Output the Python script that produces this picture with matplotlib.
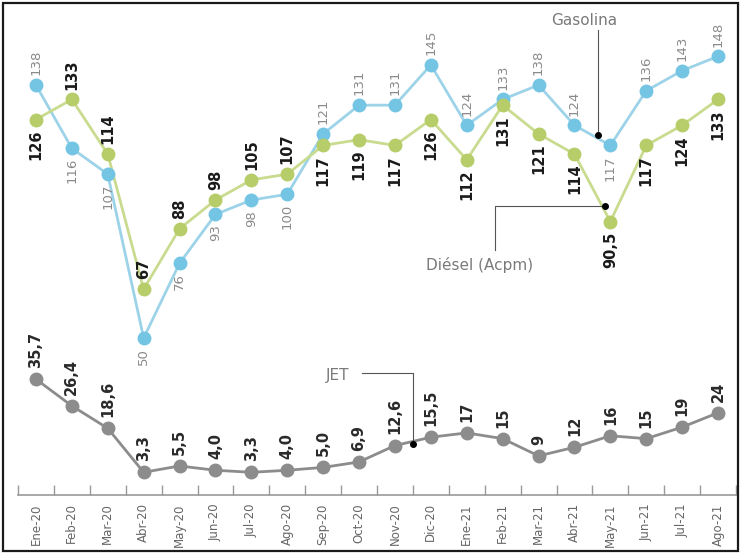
import numpy as np
import matplotlib
matplotlib.use("Agg")
import matplotlib.pyplot as plt
from matplotlib.patches import Rectangle

# data
meses = ["Ene-20", "Feb-20", "Mar-20", "Abr-20", "May-20", "Jun-20", "Jul-20",
         "Ago-20", "Sep-20", "Oct-20", "Nov-20", "Dic-20", "Ene-21", "Feb-21",
         "Mar-21", "Abr-21", "May-21", "Jun-21", "Jul-21", "Ago-21"]
gasolina = [138, 116, 107, 50, 76, 93, 98, 100, 121, 131, 131, 145, 124, 133,
            138, 124, 117, 136, 143, 148]
diesel = [126, 133, 114, 67, 88, 98, 105, 107, 117, 119, 117, 126, 112, 131,
          121, 114, 90.5, 117, 124, 133]
jet = [35.7, 26.4, 18.6, 3.3, 5.5, 4.0, 3.3, 4.0, 5.0, 6.9, 12.6, 15.5, 17, 15,
       9, 12, 16, 15, 19, 24]
jet_labels = ["35,7", "26,4", "18,6", "3,3", "5,5", "4,0", "3,3", "4,0", "5,0",
              "6,9", "12,6", "15,5", "17", "15", "9", "12", "16", "15", "19", "24"]
# label above (1) or below (-1) each point
gas_pos = [1, -1, -1, -1, -1, -1, -1, -1, 1, 1, 1, 1, 1, 1, 1, 1, -1, 1, 1, 1]
die_pos = [-1, 1, 1, 1, 1, 1, 1, 1, -1, -1, -1, -1, -1, -1, -1, -1, -1, -1, -1, -1]

plt.rcParams['font.family'] = ['DejaVu Sans']

fig = plt.figure(figsize=(7.41, 5.54), dpi=100)
ax = fig.add_axes([18 / 741, 1 - 495 / 554, 718 / 741, 487 / 554])
x = np.arange(len(meses))

c_gas, c_gas_line = "#74c5e4", "#9dd3e8"
c_die, c_die_line = "#b6cd69", "#c9db8e"
c_jet = "#8c8c8c"

ax.plot(x, gasolina, color=c_gas_line, lw=2, zorder=2)
ax.plot(x, gasolina, "o", color=c_gas, ms=9, zorder=3)
ax.plot(x, diesel, color=c_die_line, lw=2, zorder=2)
ax.plot(x, diesel, "o", color=c_die, ms=9, zorder=3)
ax.plot(x, jet, color=c_jet, lw=2, zorder=2)
ax.plot(x, jet, "o", color=c_jet, ms=9, zorder=3)

def fmt(v):
    return f"{v:g}".replace(".", ",")

for i in x:
    s = gas_pos[i]
    ax.annotate(fmt(gasolina[i]), (i, gasolina[i]), xytext=(0, 7 * s),
                textcoords="offset points", rotation=90, ha="center",
                va="bottom" if s > 0 else "top", fontsize=9.5, color="#8a8a8a")
    s = die_pos[i]
    ax.annotate(fmt(diesel[i]), (i, diesel[i]), xytext=(0, 7 * s),
                textcoords="offset points", rotation=90, ha="center",
                va="bottom" if s > 0 else "top", fontsize=10.5,
                fontweight="bold", color="#1a1a1a")
    ax.annotate(jet_labels[i], (i, jet[i]), xytext=(0, 8),
                textcoords="offset points", rotation=90, ha="center",
                va="bottom", fontsize=10.5, fontweight="bold", color="#2a2a2a")

# series callouts
ax.text(15.26, 160.3, "Gasolina", ha="center", va="center", fontsize=11, color="#7a7a7a")
ax.plot([15.65, 15.65], [157.1, 120.6], color="#555555", lw=0.8)
ax.plot(15.65, 120.6, "o", color="black", ms=4, zorder=5)

ax.text(12.37, 75.4, "Diésel (Acpm)", ha="center", va="center", fontsize=11, color="#7a7a7a")
ax.plot([12.79, 12.79, 15.85], [80.5, 95.9, 95.9], color="#555555", lw=0.8)
ax.plot(15.85, 95.9, "o", color="black", ms=4, zorder=5)

ax.text(8.41, 37.1, "JET", ha="center", va="center", fontsize=11, color="#7a7a7a")
ax.plot([9.08, 10.5, 10.5], [37.8, 37.8, 13.1], color="#555555", lw=0.8)
ax.plot(10.5, 13.1, "o", color="black", ms=4, zorder=5)

ax.set_xlim(-0.5, 19.5)
ax.set_ylim(-4.6, 164.8)
ax.set_xticks(x)
ax.set_xticklabels(meses, rotation=90, fontsize=8.5, color="#666666")
ax.set_xticks(np.arange(-0.5, 20, 1), minor=True)
ax.tick_params(axis="x", which="major", length=0, pad=6)
ax.tick_params(axis="x", which="minor", length=7, direction="in", color="#999999", width=1)
ax.set_yticks([])
for side in ["top", "left", "right"]:
    ax.spines[side].set_visible(False)
ax.spines["bottom"].set_color("#999999")
ax.spines["bottom"].set_linewidth(1.2)

fig.patches.append(Rectangle((3 / 741, 3 / 554), 735 / 741, 548 / 554,
                             transform=fig.transFigure, fill=False,
                             edgecolor="#1a1a1a", lw=1.6))

fig.savefig("out.png", dpi=100)
